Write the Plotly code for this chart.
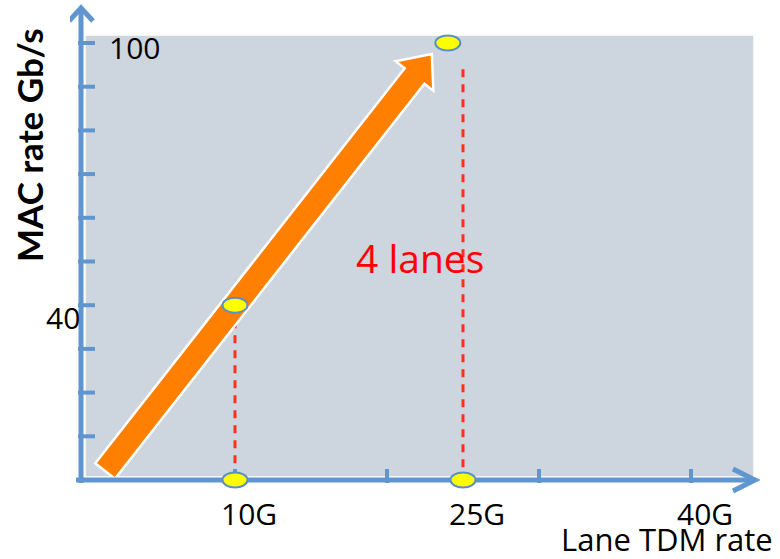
import plotly.graph_objects as go

# ---------------- data ----------------
lane_rates = [10, 25]            # lane TDM rates marked on the x axis (Gb/s)
mac_lane_rates = [10, 24]        # lane rate at each MAC-rate marker
mac_rates = [40, 100]            # aggregate MAC rate over 4 lanes (Gb/s)
drop_line_tops = [40, 94]        # upper end of each dashed drop line
x_tick_values = [10, 20, 30, 40]
x_label_values = [10, 25, 40]
x_label_text = ["10G", "25G", "40G"]
y_tick_values = [10, 20, 30, 40, 50, 60, 70, 80, 90, 100]
y_label_values = [40, 100]
y_label_text = ["40", "100"]

# ---------------- scale ----------------
W, H = 780, 559
X0_PX, PX_PER_G = 83.0, 15.2     # pixel of 0 G and pixels per Gb/s on x
Y0_PX, PX_PER_V = 480.0, 4.37    # pixel of 0 and pixels per Gb/s on y
PLOT_L, PLOT_R, PLOT_T, PLOT_B = 70, 762, 4, 497


def gx(px):
    return (px - X0_PX) / PX_PER_G


def vy(py):
    return (Y0_PX - py) / PX_PER_V


def to_px(x, y):
    return X0_PX + x * PX_PER_G, Y0_PX - y * PX_PER_V


def px_path(points, close=True):
    parts = []
    for i, (px, py) in enumerate(points):
        parts.append(("M" if i == 0 else "L") + f"{gx(px):.4f},{vy(py):.4f}")
    return " ".join(parts) + (" Z" if close else "")


AXIS = "#6096CF"
FONT = "'Open Sans', Lato, sans-serif"
TITLE_FONT = "Lato, 'Open Sans', sans-serif"

fig = go.Figure()

# dashed drop lines from each rate down to the lane axis
for x, top in zip(lane_rates, drop_line_tops):
    fig.add_trace(go.Scatter(
        x=[x, x], y=[top, 0], mode="lines",
        line=dict(color="#FF3019", width=3, dash="8px,7px"),
        hoverinfo="skip", showlegend=False))

shapes = []

# plot background panel
shapes.append(dict(type="rect", xref="x", yref="y", layer="below",
                   x0=gx(85), x1=gx(754), y0=vy(477), y1=vy(35),
                   fillcolor="#CDD5DF", line=dict(color="white", width=1.5)))

# orange growth arrow: passes through the 40G marker, tip just short of the 100G marker
p1 = to_px(mac_lane_rates[0], mac_rates[0])
p2 = to_px(mac_lane_rates[1], mac_rates[1])
tip = (p2[0] - 16, p2[1] + 11)
dx, dy = tip[0] - p1[0], tip[1] - p1[1]
ln = (dx * dx + dy * dy) ** 0.5
ux, uy = dx / ln, dy / ln
nx, ny = -uy, ux
s_back = (471 - p1[1]) / (-uy)
tail = (p1[0] - s_back * ux, p1[1] - s_back * uy)
shaft, head_w, head_l = 12.5, 24, 28
neck = (tip[0] - head_l * ux, tip[1] - head_l * uy)
arrow_pts = [
    (tail[0] + nx * shaft, tail[1] + ny * shaft),
    (neck[0] + nx * shaft, neck[1] + ny * shaft),
    (neck[0] + nx * head_w, neck[1] + ny * head_w),
    tip,
    (neck[0] - nx * head_w, neck[1] - ny * head_w),
    (neck[0] - nx * shaft, neck[1] - ny * shaft),
    (tail[0] - nx * shaft, tail[1] - ny * shaft),
]
shapes.append(dict(type="path", xref="x", yref="y", path=px_path(arrow_pts),
                   fillcolor="#FF7F00", line=dict(color="white", width=2.5)))

# axes with open arrow heads
shapes.append(dict(type="line", xref="x", yref="y",
                   x0=gx(81), x1=gx(81), y0=vy(483), y1=vy(9),
                   line=dict(color=AXIS, width=5)))
shapes.append(dict(type="path", xref="x", yref="y",
                   path=px_path([(69, 21), (81, 8), (93, 21)], close=False),
                   line=dict(color=AXIS, width=5)))
shapes.append(dict(type="line", xref="x", yref="y",
                   x0=gx(76), x1=gx(754), y0=0, y1=0,
                   line=dict(color=AXIS, width=5)))
shapes.append(dict(type="path", xref="x", yref="y",
                   path=px_path([(733, 469), (755, 480), (733, 491)], close=False),
                   line=dict(color=AXIS, width=5)))

# tick marks
for v in y_tick_values:
    shapes.append(dict(type="line", xref="x", yref="y", xsizemode="pixel",
                       xanchor=0, x0=-5, x1=12, y0=v, y1=v,
                       line=dict(color=AXIS, width=4)))
for g in x_tick_values:
    shapes.append(dict(type="line", xref="x", yref="y", ysizemode="pixel",
                       yanchor=0, y0=-3, y1=11, x0=g, x1=g,
                       line=dict(color=AXIS, width=4)))

# yellow ellipse markers
markers = [(x, 0) for x in lane_rates] + list(zip(mac_lane_rates, mac_rates))
for x, y in markers:
    shapes.append(dict(type="circle", xref="x", yref="y",
                       xsizemode="pixel", ysizemode="pixel",
                       xanchor=x, yanchor=y, x0=-12.5, x1=12.5, y0=-7.5, y1=7.5,
                       fillcolor="#FFFF00", line=dict(color="#5A8FCB", width=2)))

annotations = []
for v, t in zip(y_label_values, y_label_text):
    if v == 100:
        annotations.append(dict(x=0, y=v, xref="x", yref="y", text=t,
                                showarrow=False, xanchor="left", yanchor="middle",
                                xshift=24, yshift=-4,
                                font=dict(family=FONT, size=30, color="black")))
    else:
        annotations.append(dict(x=0, y=v, xref="x", yref="y", text=t,
                                showarrow=False, xanchor="right", yanchor="middle",
                                xshift=-1, yshift=-12,
                                font=dict(family=FONT, size=30, color="black")))
for g, t in zip(x_label_values, x_label_text):
    annotations.append(dict(x=g, y=0, xref="x", yref="paper", text=t,
                            showarrow=False, xanchor="center", yanchor="middle",
                            xshift=14, yshift=-16,
                            font=dict(family=FONT, size=30, color="black")))
annotations.append(dict(x=1, y=0, xref="paper", yref="paper", text="Lane TDM rate",
                        showarrow=False, xanchor="right", yanchor="middle",
                        xshift=13, yshift=-42,
                        font=dict(family=FONT, size=31, color="black")))
annotations.append(dict(x=gx(420), y=vy(257), xref="x", yref="y", text="4 lanes",
                        showarrow=False, xanchor="center", yanchor="middle",
                        font=dict(family=FONT, size=39, color="#FF0000")))
annotations.append(dict(x=(29 - PLOT_L) / (PLOT_R - PLOT_L),
                        y=(PLOT_B - 145) / (PLOT_B - PLOT_T),
                        xref="paper", yref="paper", text="<b>MAC rate Gb/s</b>",
                        textangle=-90, showarrow=False,
                        xanchor="center", yanchor="middle",
                        font=dict(family=TITLE_FONT, size=35, color="black")))

fig.update_layout(
    width=W, height=H,
    margin=dict(l=PLOT_L, r=W - PLOT_R, t=PLOT_T, b=H - PLOT_B),
    paper_bgcolor="white", plot_bgcolor="white",
    xaxis=dict(range=[gx(PLOT_L), gx(PLOT_R)], visible=False, fixedrange=True),
    yaxis=dict(range=[vy(PLOT_B), vy(PLOT_T)], visible=False, fixedrange=True),
    shapes=shapes, annotations=annotations, showlegend=False,
)

fig.write_html("out.html")
